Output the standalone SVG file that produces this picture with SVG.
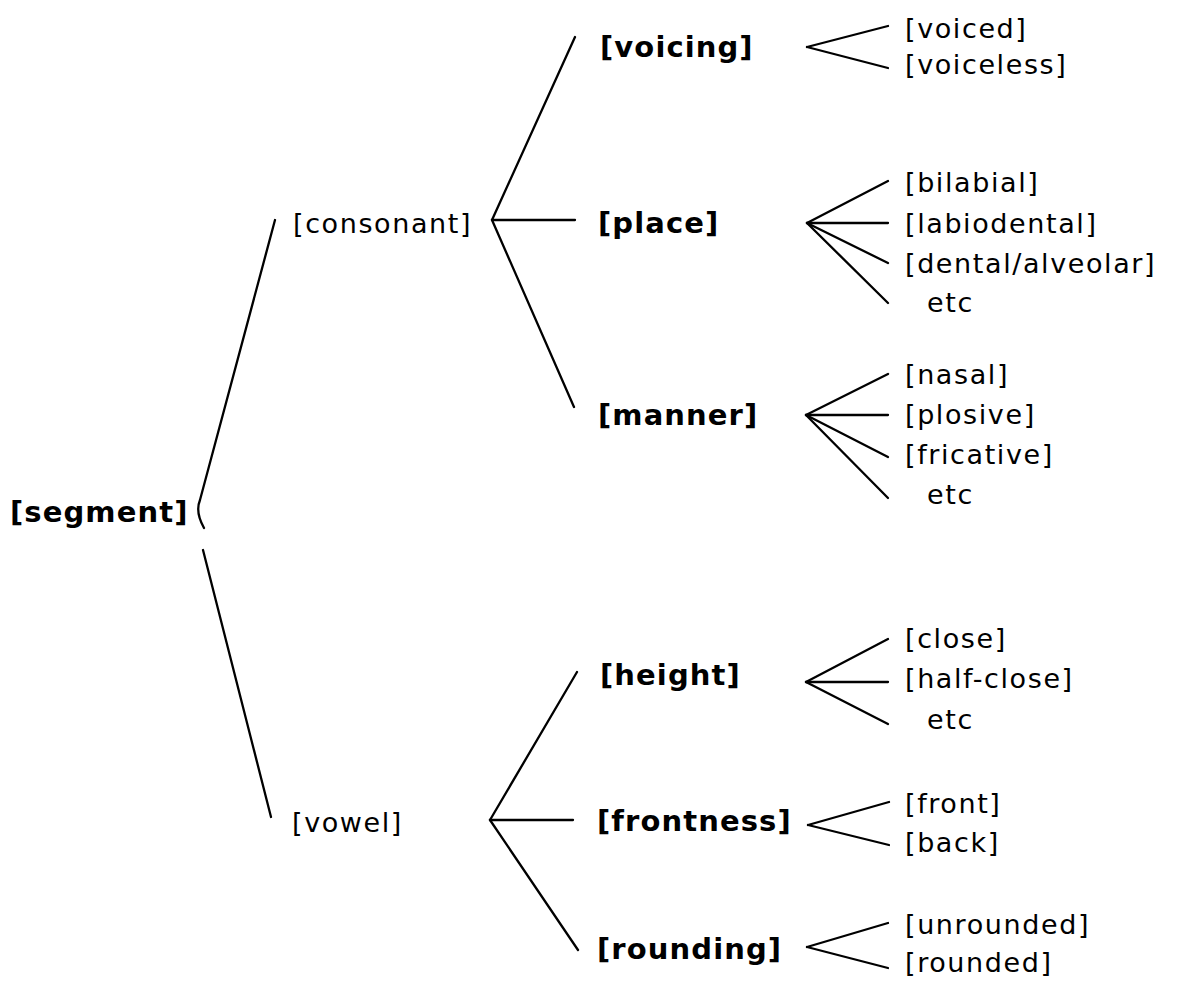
<svg xmlns="http://www.w3.org/2000/svg" width="1178" height="981" viewBox="0 0 1178 981">
<style>
.r{font-family:"DejaVu Sans","Liberation Sans",sans-serif;font-size:27px;letter-spacing:1.6px;fill:#000}
.b{font-family:"DejaVu Sans","Liberation Sans",sans-serif;font-size:29px;font-weight:bold;letter-spacing:1.1px;fill:#000}
.c line,.c path{stroke:#000;stroke-width:2.3;fill:none;stroke-linecap:round}
</style>
<rect width="1178" height="981" fill="#fff"/>
<g class="c" id="connectors">
<path d="M275,220 L200,500 Q195,512 204,528"/>
<line x1="203" y1="550" x2="271" y2="817"/>
<line x1="492" y1="220" x2="575" y2="37"/>
<line x1="492" y1="220" x2="575" y2="220"/>
<line x1="492" y1="220" x2="574" y2="407"/>
<line x1="490" y1="820" x2="577" y2="672"/>
<line x1="490" y1="820" x2="573" y2="820"/>
<line x1="490" y1="820" x2="578" y2="950"/>
<line x1="807" y1="47" x2="888" y2="26"/>
<line x1="807" y1="47" x2="888" y2="68"/>
<line x1="807" y1="223" x2="888" y2="181"/>
<line x1="807" y1="223" x2="888" y2="223"/>
<line x1="807" y1="223" x2="888" y2="263"/>
<line x1="807" y1="223" x2="888" y2="303"/>
<line x1="806" y1="415" x2="888" y2="374"/>
<line x1="806" y1="415" x2="888" y2="415"/>
<line x1="806" y1="415" x2="888" y2="457"/>
<line x1="806" y1="415" x2="888" y2="498"/>
<line x1="806" y1="682" x2="888" y2="639"/>
<line x1="806" y1="682" x2="888" y2="682"/>
<line x1="806" y1="682" x2="888" y2="724"/>
<line x1="808" y1="825" x2="889" y2="802"/>
<line x1="808" y1="825" x2="889" y2="845"/>
<line x1="807" y1="947" x2="888" y2="923"/>
<line x1="807" y1="947" x2="888" y2="968"/>
</g>
<g id="segment"><text class="b" x="10" y="522">[segment]</text></g>
<g id="consonant"><text class="r" x="293" y="233">[consonant]</text></g>
<g id="vowel"><text class="r" x="292" y="832">[vowel]</text></g>
<g id="voicing"><text class="b" x="600" y="57">[voicing]</text></g>
<g id="place"><text class="b" x="598" y="233">[place]</text></g>
<g id="manner"><text class="b" x="598" y="425">[manner]</text></g>
<g id="height"><text class="b" x="600" y="685">[height]</text></g>
<g id="frontness"><text class="b" x="597" y="831">[frontness]</text></g>
<g id="rounding"><text class="b" x="597" y="959">[rounding]</text></g>
<g id="voiced"><text class="r" x="905" y="38">[voiced]</text></g>
<g id="voiceless"><text class="r" x="905" y="74">[voiceless]</text></g>
<g id="bilabial"><text class="r" x="905" y="192">[bilabial]</text></g>
<g id="labiodental"><text class="r" x="905" y="233">[labiodental]</text></g>
<g id="dental-alveolar"><text class="r" x="905" y="273">[dental/alveolar]</text></g>
<g id="place-etc"><text class="r" x="927" y="312">etc</text></g>
<g id="nasal"><text class="r" x="905" y="384">[nasal]</text></g>
<g id="plosive"><text class="r" x="905" y="424">[plosive]</text></g>
<g id="fricative"><text class="r" x="905" y="464">[fricative]</text></g>
<g id="manner-etc"><text class="r" x="927" y="504">etc</text></g>
<g id="close"><text class="r" x="905" y="648">[close]</text></g>
<g id="half-close"><text class="r" x="905" y="688">[half-close]</text></g>
<g id="height-etc"><text class="r" x="927" y="729">etc</text></g>
<g id="front"><text class="r" x="905" y="813">[front]</text></g>
<g id="back"><text class="r" x="905" y="852">[back]</text></g>
<g id="unrounded"><text class="r" x="905" y="934">[unrounded]</text></g>
<g id="rounded"><text class="r" x="905" y="972">[rounded]</text></g>
</svg>
